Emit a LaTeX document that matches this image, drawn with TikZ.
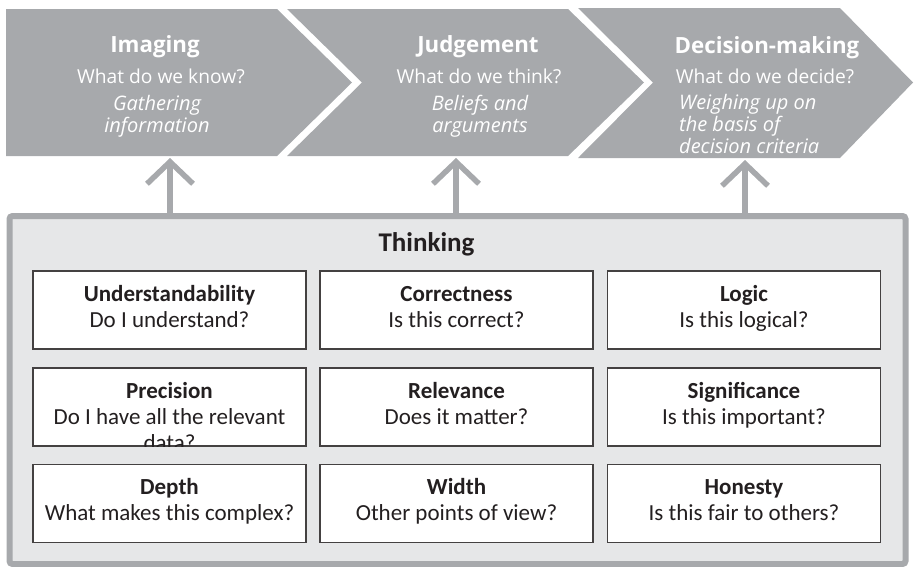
\documentclass[tikz,border=0pt]{standalone}
\usepackage{fontspec}
\setmainfont{Carlito}
\newfontfamily\chevronfont{Open Sans}
\usetikzlibrary{positioning, arrows.meta}

\definecolor{stagegray}{HTML}{A7A9AC}
\definecolor{framegray}{HTML}{E6E7E8}
\definecolor{inkgray}{HTML}{231F20}

\begin{document}
\begin{tikzpicture}[
        x=1pt, y=-1pt,
        chevron/.style={fill=stagegray},
        stage/.style={anchor=base, inner sep=0pt, text=white, font=\chevronfont\bfseries\fontsize{22.3}{26}\selectfont},
        question/.style={anchor=base, inner sep=0pt, text=white, font=\chevronfont\fontsize{19.2}{22}\selectfont},
        aim/.style={anchor=base, inner sep=0pt, text=white, font=\chevronfont\itshape\fontsize{20}{22}\selectfont},
        thinkframe/.style={rectangle, draw=stagegray, fill=framegray, line width=6pt, rounded corners=3pt, minimum width=896pt, minimum height=348pt, inner sep=0pt},
        heading/.style={anchor=base, inner sep=0pt, text=inkgray, font=\bfseries\fontsize{27}{30}\selectfont},
        check/.style={rectangle, draw=inkgray!85, fill=white, line width=1.2pt, minimum width=273pt, minimum height=78pt, inner sep=0pt},
        checktext/.style={anchor=base, inner sep=0pt, align=center, text=inkgray, font=\fontsize{23}{26}\selectfont},
        arrow/.style={draw=stagegray, line width=5.5pt, -{Straight Barb[length=22pt, width=46pt]}}
    ]
    \useasboundingbox (0,0) rectangle (914,566);

    % Process chevrons
    \fill[chevron] (6,9) -- (277,9) -- (352,82.5) -- (277,156) -- (6,156) -- cycle;
    \fill[chevron] (287,9) -- (568,9) -- (644,82.5) -- (568,156) -- (287,156) -- (362,82.5) -- cycle;
    \fill[chevron] (578,8) -- (840,8) -- (913,82.5) -- (840,158) -- (578,158) -- (653,82.5) -- cycle;

    % Imaging (base of a multi-line node = its last line)
    \node[stage] (imaging) at (155,52) {Imaging};
    \node[question] (knowq) at (161,83) {What do we know?};
    \node[aim, align=center] (knowaim) at (157,132) {Gathering\\information};

    % Judgement
    \node[stage] (judgement) at (478,52) {Judgement};
    \node[question] (thinkq) at (479,83) {What do we think?};
    \node[aim, align=center] (thinkaim) at (480,132) {Beliefs and\\arguments};

    % Decision-making
    \node[stage] (decision) at (767,53) {Decision-making};
    \node[question] (decideq) at (765,83) {What do we decide?};
    \node[aim, align=left, anchor=base west] (decideaim) at (679,153) {Weighing up on\\the basis of\\decision criteria};

    % Arrow ends under the chevrons
    \coordinate (imagingtip) at (170,158);
    \coordinate (judgementtip) at (456,158);
    \coordinate (decisiontip) at (745,160);

    % Thinking frame
    \node[thinkframe] (thinking) at (457.5,390) {};
    \draw[arrow] (thinking.north -| imagingtip) -- (imagingtip);
    \draw[arrow] (thinking.north -| judgementtip) -- (judgementtip);
    \draw[arrow] (thinking.north -| decisiontip) -- (decisiontip);
    \node[heading] (thinkhead) at (426.5,251) {Thinking};

    % First row
    \node[check] (understand) at (169.5,310) {};
    \node[check] (correct) at (456.5,310) {};
    \node[check] (logic) at (744,310) {};
    \node[checktext] at ([yshift=-57pt]understand.north) {\textbf{Understandability}\\Do I understand?};
    \node[checktext] at ([yshift=-57pt]correct.north) {\textbf{Correctness}\\Is this correct?};
    \node[checktext] at ([yshift=-57pt]logic.north) {\textbf{Logic}\\Is this logical?};

    % Second row
    \node[check] (precision) at (169.5,407) {};
    \node[check] (relevance) at (456.5,407) {};
    \node[check] (significance) at (744,407) {};
    \begin{scope}
        \clip ([shift={(0.6pt,0.6pt)}]precision.south west) rectangle ([shift={(-0.6pt,-0.6pt)}]precision.north east);
        \node[checktext] at ([yshift=-83pt]precision.north) {\textbf{Precision}\\Do I have all the relevant\\data?};
    \end{scope}
    \node[checktext] at ([yshift=-57pt]relevance.north) {\textbf{Relevance}\\Does it matter?};
    \node[checktext] at ([yshift=-57pt]significance.north) {\textbf{Significance}\\Is this important?};

    % Third row
    \node[check] (depth) at (169.5,503.5) {};
    \node[check] (width) at (456.5,503.5) {};
    \node[check] (honesty) at (744,503.5) {};
    \node[checktext] at ([yshift=-57pt]depth.north) {\textbf{Depth}\\What makes this complex?};
    \node[checktext] at ([yshift=-57pt]width.north) {\textbf{Width}\\Other points of view?};
    \node[checktext] at ([yshift=-57pt]honesty.north) {\textbf{Honesty}\\Is this fair to others?};

\end{tikzpicture}
\end{document}
